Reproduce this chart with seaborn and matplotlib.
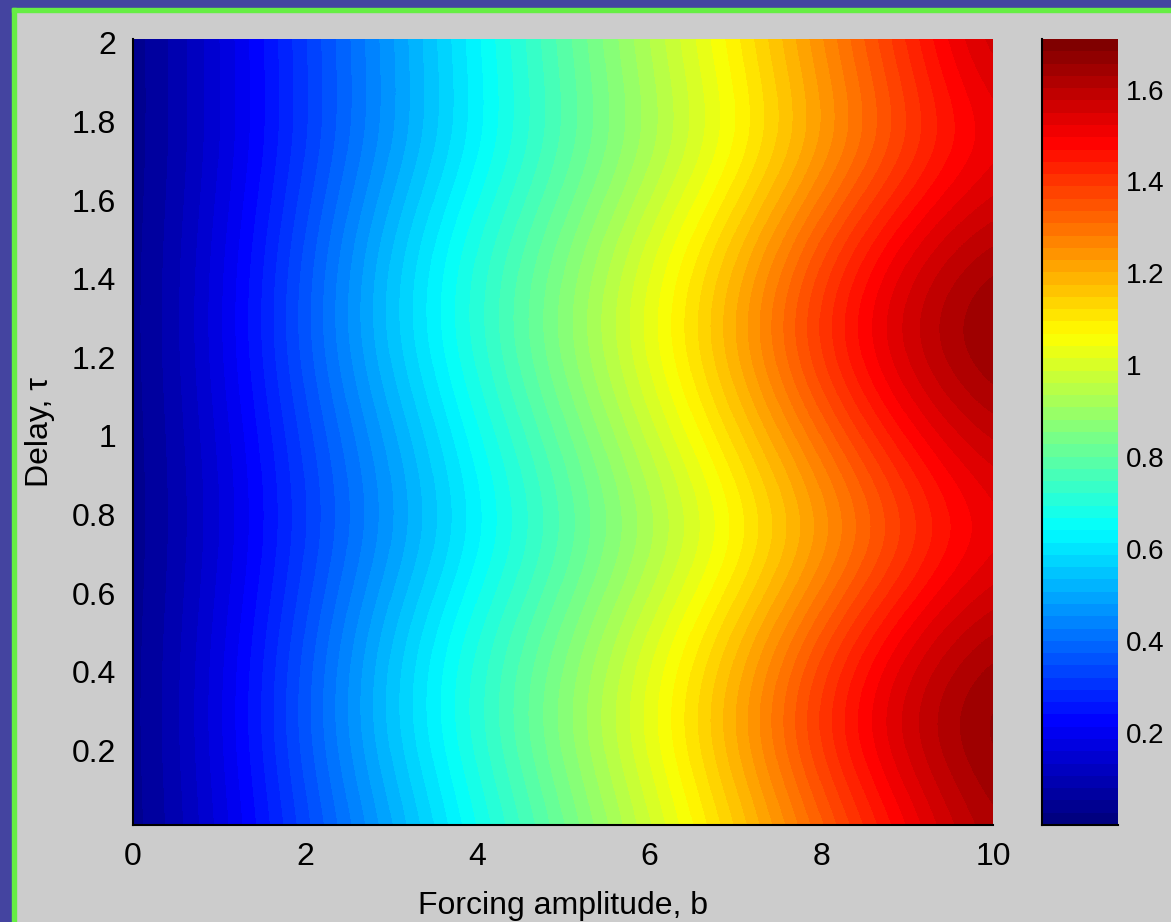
import numpy as np
import matplotlib
matplotlib.use("Agg")
import matplotlib.pyplot as plt
import matplotlib.patches as mpatches
from matplotlib.colors import LinearSegmentedColormap
import seaborn as sns

# values: rows = delay tau, columns = forcing amplitude b
b_vals = [0, 1, 2, 3, 4, 5, 6, 7, 8, 9, 10]
tau_vals = [0.0, 0.25, 0.5, 0.75, 1.0, 1.25, 1.5, 1.75, 2.0]
row_000 = [0.02, 0.16, 0.33, 0.49, 0.66, 0.81, 0.97, 1.13, 1.31, 1.48, 1.63]
row_025 = [0.02, 0.18, 0.37, 0.56, 0.72, 0.88, 1.04, 1.22, 1.43, 1.60, 1.70]
row_050 = [0.02, 0.17, 0.35, 0.54, 0.70, 0.84, 1.00, 1.16, 1.35, 1.52, 1.63]
row_075 = [0.02, 0.15, 0.31, 0.46, 0.615, 0.76, 0.90, 1.04, 1.20, 1.36, 1.50]
row_100 = [0.02, 0.16, 0.33, 0.49, 0.66, 0.81, 0.97, 1.13, 1.31, 1.48, 1.60]
row_125 = [0.02, 0.18, 0.37, 0.56, 0.72, 0.88, 1.04, 1.22, 1.43, 1.60, 1.70]
row_150 = [0.02, 0.17, 0.35, 0.54, 0.70, 0.84, 1.00, 1.16, 1.35, 1.52, 1.62]
row_175 = [0.02, 0.15, 0.31, 0.465, 0.62, 0.765, 0.90, 1.04, 1.20, 1.36, 1.50]
row_200 = [0.02, 0.155, 0.32, 0.475, 0.64, 0.79, 0.94, 1.09, 1.26, 1.43, 1.60]

x_ticks = [0, 2, 4, 6, 8, 10]
y_ticks = [0.2, 0.4, 0.6, 0.8, 1.0, 1.2, 1.4, 1.6, 1.8, 2.0]
y_ticklabels = ["0.2", "0.4", "0.6", "0.8", "1", "1.2", "1.4", "1.6", "1.8", "2"]
cb_ticks = [0.2, 0.4, 0.6, 0.8, 1.0, 1.2, 1.4, 1.6]
cb_ticklabels = ["0.2", "0.4", "0.6", "0.8", "1", "1.2", "1.4", "1.6"]

grid = np.array([row_000, row_025, row_050, row_075, row_100,
                 row_125, row_150, row_175, row_200])

sns.set_theme(style="white")
plt.rcParams["font.family"] = ["Liberation Sans", "DejaVu Sans"]
plt.rcParams["text.color"] = "black"
plt.rcParams["axes.labelcolor"] = "black"

# matlab style jet, 64 levels
matlab_jet = LinearSegmentedColormap("matlab_jet", {
    "red": [(0, 0, 0), (0.375, 0, 0), (0.625, 1, 1), (0.875, 1, 1), (1, 0.5, 0.5)],
    "green": [(0, 0, 0), (0.125, 0, 0), (0.375, 1, 1), (0.625, 1, 1), (0.875, 0, 0), (1, 0, 0)],
    "blue": [(0, 0.5, 0.5), (0.125, 1, 1), (0.375, 1, 1), (0.625, 0, 0), (1, 0, 0)],
}, N=64)

bg = "#cccccc"
fig = plt.figure(figsize=(11.71, 9.22), dpi=100, facecolor=bg)

ax = fig.add_axes([133 / 1171, 1 - 825 / 922, 860 / 1171, 786 / 922])
cax = fig.add_axes([1042 / 1171, 1 - 825 / 922, 76 / 1171, 786 / 922])

db = b_vals[1] - b_vals[0]
dt = tau_vals[1] - tau_vals[0]
im = ax.imshow(grid, origin="lower", aspect="auto", cmap=matlab_jet,
               interpolation="bicubic", vmin=0.0, vmax=1.71,
               extent=[b_vals[0] - db / 2, b_vals[-1] + db / 2,
                       tau_vals[0] - dt / 2, tau_vals[-1] + dt / 2])
ax.set_xlim(0, 10)
ax.set_ylim(0.01, 2.01)

ax.set_xticks(x_ticks)
ax.set_xticklabels([str(t) for t in x_ticks])
ax.set_yticks(y_ticks)
ax.set_yticklabels(y_ticklabels)
ax.tick_params(length=0, labelsize=23, colors="black")
ax.tick_params(axis="x", pad=12)
ax.tick_params(axis="y", pad=12)
ax.set_xlabel("Forcing amplitude, b", fontsize=23, labelpad=14, color="black")
ax.set_ylabel("Delay, \u03c4", fontsize=23, labelpad=12, color="black")
for side in ["top", "right"]:
    ax.spines[side].set_visible(False)
for side in ["left", "bottom"]:
    ax.spines[side].set_color("black")
    ax.spines[side].set_linewidth(1.5)

cb = fig.colorbar(im, cax=cax)
cb.set_ticks(cb_ticks)
cb.set_ticklabels(cb_ticklabels)
cb.outline.set_visible(False)
for side in ["left", "bottom"]:
    cax.spines[side].set_visible(True)
    cax.spines[side].set_color("black")
    cax.spines[side].set_linewidth(1.5)
cax.tick_params(axis="y", direction="in", left=True, right=True,
                labelleft=False, labelright=True, length=7, width=1.2,
                labelsize=20, pad=6, colors="black")

# slide frame on the left and top
W, H = 1171, 922
fig.patches.append(mpatches.Rectangle((0, 0), 12 / W, 1, transform=fig.transFigure,
                                      color="#4444a0", zorder=0))
fig.patches.append(mpatches.Rectangle((0, 1 - 8 / H), 1, 8 / H, transform=fig.transFigure,
                                      color="#4444a0", zorder=0))
fig.patches.append(mpatches.Rectangle((12 / W, 0), 4 / W, 1 - 8 / H, transform=fig.transFigure,
                                      color="#66ee44", zorder=0))
fig.patches.append(mpatches.Rectangle((12 / W, 1 - 12 / H), 1, 4 / H, transform=fig.transFigure,
                                      color="#66ee44", zorder=0))

fig.savefig("out.png", dpi=100, facecolor=bg)
